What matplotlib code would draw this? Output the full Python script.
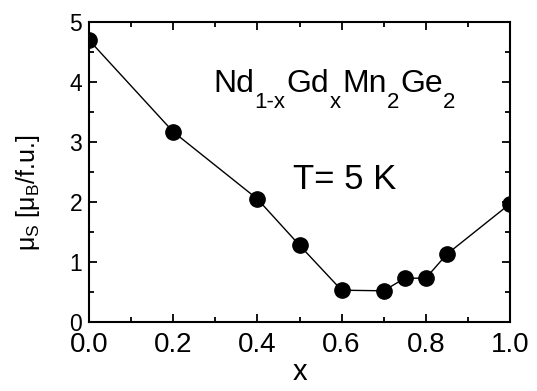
import numpy as np
import matplotlib.pyplot as plt
from matplotlib.ticker import MultipleLocator

plt.rcParams['font.family'] = ['Liberation Sans', 'DejaVu Sans']
plt.rcParams['mathtext.fontset'] = 'custom'
plt.rcParams['mathtext.rm'] = 'Liberation Sans'
plt.rcParams['mathtext.it'] = 'Liberation Sans'

# données
x_gd = [0.0, 0.2, 0.4, 0.5, 0.6, 0.7, 0.75, 0.8, 0.85, 1.0]
mu_s = [4.70, 3.17, 2.05, 1.28, 0.53, 0.52, 0.73, 0.73, 1.13, 1.97]

# formule : (texte, indice ?)
formula = [('Nd', False), ('1-x', True), ('Gd', False), ('x', True),
           ('Mn', False), ('2', True), ('Ge', False), ('2', True)]

fig = plt.figure(figsize=(5.37, 3.91), dpi=100)
ax = fig.add_axes([89 / 537, 1 - 322 / 391, (510 - 89) / 537, (322 - 22) / 391])

ax.plot(x_gd, mu_s, '-o', color='black', lw=1.0, ms=11)

ax.set_xlim(0.0, 1.0)
ax.set_ylim(0, 5)
ax.xaxis.set_major_locator(MultipleLocator(0.2))
ax.xaxis.set_minor_locator(MultipleLocator(0.1))
ax.yaxis.set_major_locator(MultipleLocator(1))
ax.yaxis.set_minor_locator(MultipleLocator(0.5))
ax.xaxis.set_major_formatter(plt.FormatStrFormatter('%.1f'))
ax.tick_params(which='both', direction='in', top=True, right=True, width=1.3)
ax.tick_params(which='major', length=6)
ax.tick_params(which='minor', length=3.6)
ax.tick_params(axis='x', labelsize=20, pad=7)
ax.tick_params(axis='y', labelsize=16.5, pad=5)
for s in ax.spines.values():
    s.set_linewidth(1.5)

ax.set_xlabel('x', fontsize=21, labelpad=0)
ax.set_ylabel(r'$\mu_\mathregular{S}$ [$\mu_\mathregular{B}$/f.u.]', fontsize=18)
ax.yaxis.set_label_coords(-0.112, 0.43)

# formule chimique, morceau par morceau (indices bien descendus)
renderer = fig.canvas.get_renderer()
inv = ax.transAxes.inverted()
xpos = 0.295
for txt, sub in formula:
    if sub:
        t = ax.text(xpos, 0.713, txt, transform=ax.transAxes, fontsize=16, va='baseline')
    else:
        t = ax.text(xpos, 0.767, txt, transform=ax.transAxes, fontsize=23, va='baseline')
    bb = t.get_window_extent(renderer)
    xpos = inv.transform((bb.x1, bb.y0))[0] + (0.004 if sub else 0.0)

ax.text(0.485, 0.443, 'T= 5 K', transform=ax.transAxes, fontsize=25, va='baseline')

fig.savefig('out.png', dpi=100)
